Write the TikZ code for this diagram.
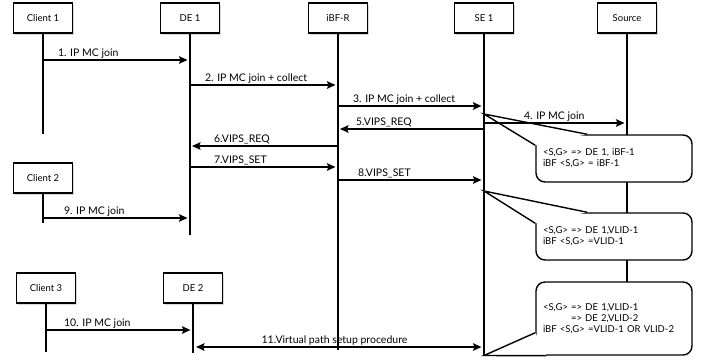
\documentclass[tikz,border=0pt]{standalone}
\usepackage{fontspec}
\setmainfont{Lato}
\usetikzlibrary{arrows.meta,shadows}

\begin{document}
\begin{tikzpicture}[x=1pt,y=-1pt,>={Stealth[length=8.5pt,width=7.5pt,inset=1.5pt]},
	actor/.style={draw,line width=1.6,fill=white,minimum width=59,minimum height=30,inner sep=0,font=\fontsize{9.5}{10}\selectfont,
		drop shadow={shadow xshift=1.5pt,shadow yshift=-1.5pt,opacity=0.3}},
	life/.style={line width=2.4},
	msg/.style={line width=2.2,->,shorten >=2.5pt},
	back/.style={line width=2.2,<-,shorten <=2pt},
	both/.style={line width=2.2,<->,shorten <=3pt,shorten >=2.5pt},
	lbl/.style={font=\fontsize{10.5}{11}\selectfont,inner sep=0,anchor=base west,yshift=3.5pt},
	note/.style={draw,line width=1.4,fill=white,rounded corners=9pt,minimum width=156,align=left,
		text width=142,inner xsep=7,inner ysep=0,font=\fontsize{9.5}{11}\selectfont},
	wedge/.style={line width=1.4}]
	\useasboundingbox (0,0) rectangle (709,360);

	% participants
	\node[actor] (client1) at (43,18) {Client 1};
	\node[actor] (de1) at (190,18) {DE 1};
	\node[actor] (ibfr) at (338,18) {iBF-R};
	\node[actor] (se1) at (484,18) {SE 1};
	\node[actor] (source) at (627,18) {Source};
	\node[actor] (client2) at (43,178) {Client 2};
	\node[actor] (client3) at (46,288) {Client 3};
	\node[actor] (de2) at (193,288) {DE 2};

	% source lifeline runs behind the state notes
	\draw[life] (source.south) -- (source |- 0,282);

	% state notes on SE 1
	\node[note,minimum height=47] (state1) at (614,158.5) {<S,G> => DE 1, iBF-1\\iBF <S,G> = iBF-1};
	\node[note,minimum height=47] (state2) at (614,236.5) {<S,G> => DE 1,VLID-1\\iBF <S,G> =VLID-1};
	\node[note,minimum height=73] (state3) at (614,318.5) {<S,G> => DE 1,VLID-1\\\hspace*{28pt}=> DE 2,VLID-2\\iBF <S,G> =VLID-1 OR VLID-2\\[6pt]};

	\coordinate (tip1) at (se1 |- 0,114);
	\coordinate (tip2) at (se1 |- 0,191);
	\coordinate (tip3) at (se1 |- 0,355.5);
	\fill[white] (tip1) -- ([xshift=52]state1.north west) -- ([yshift=-11]state1.north west) -- cycle;
	\draw[wedge] ([xshift=52]state1.north west) -- (tip1) -- ([yshift=-11]state1.north west);
	\fill[white] (tip2) -- ([xshift=52]state2.north west) -- ([yshift=-11]state2.north west) -- cycle;
	\draw[wedge] ([xshift=52]state2.north west) -- (tip2) -- ([yshift=-11]state2.north west);
	\fill[white] (tip3) -- ([yshift=23]state3.south west) -- ([xshift=11]state3.south west) -- cycle;
	\draw[wedge] ([yshift=23]state3.south west) -- (tip3) -- ([xshift=11]state3.south west);

	% lifelines
	\draw[life] (client1.south) -- (client1 |- 0,134);
	\draw[life] (de1.south) -- (de1 |- 0,235);
	\draw[life] (ibfr.south) -- (ibfr |- 0,350);
	\draw[life] (se1.south) -- (tip3);
	\draw[life] (client2.south) -- (client2 |- 0,223);
	\draw[life] (client3.south) -- (client3 |- 0,352);
	\draw[life] (de2.south) -- (de2 |- 0,353);

	% messages
	\draw[msg] (client1 |- 0,60) -- (de1 |- 0,60) node[lbl,pos=0,xshift=14]{1. IP MC join};
	\draw[msg] (de1 |- 0,85) -- (ibfr |- 0,85) node[lbl,pos=0,xshift=14]{2. IP MC join + collect};
	\draw[msg] (ibfr |- 0,106) -- (se1 |- 0,106) node[lbl,pos=0,xshift=14]{3. IP MC join + collect};
	\draw[msg] (se1 |- 0,123) -- (source |- 0,123) node[lbl,pos=0,xshift=39]{4. IP MC join};
	\draw[back] (ibfr |- 0,129) -- (se1 |- 0,129) node[lbl,pos=0,xshift=17]{5.VIPS\_REQ};
	\draw[back] (de1 |- 0,146) -- (ibfr |- 0,146) node[lbl,pos=0,xshift=23]{6.VIPS\_REQ};
	\draw[msg] (de1 |- 0,167) -- (ibfr |- 0,167) node[lbl,pos=0,xshift=23]{7.VIPS\_SET};
	\draw[msg] (ibfr |- 0,180) -- (se1 |- 0,180) node[lbl,pos=0,xshift=19]{8.VIPS\_SET};
	\draw[msg] (client2 |- 0,218) -- (de1 |- 0,218) node[lbl,pos=0,xshift=20]{9. IP MC join};
	\draw[msg] (client3 |- 0,330) -- (de2 |- 0,330) node[lbl,pos=0,xshift=17]{10. IP MC join};
	\draw[both] (de2 |- 0,347) -- (se1 |- 0,347) node[lbl,midway,anchor=base,xshift=-4]{11.Virtual path setup procedure};
\end{tikzpicture}
\end{document}
